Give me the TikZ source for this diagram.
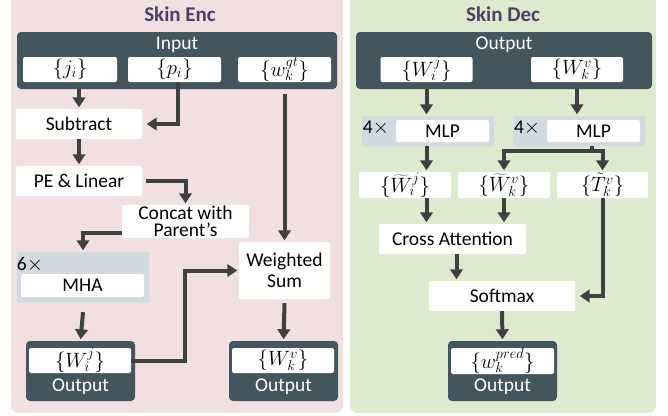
\documentclass[tikz,border=0pt]{standalone}
\usepackage{fontspec}
\setmainfont{Carlito}
\usetikzlibrary{arrows.meta}
\definecolor{pinkbg}{RGB}{240,224,226}
\definecolor{greenbg}{RGB}{222,234,207}
\definecolor{darkbox}{RGB}{68,85,94}
\definecolor{graybox}{RGB}{210,218,223}
\definecolor{titlecol}{RGB}{76,64,100}
\definecolor{arrowcol}{RGB}{64,64,64}
\begin{document}
\begin{tikzpicture}[x=1pt,y=-1pt,
  txt/.style={font=\fontsize{19.5}{16.5}\selectfont},
  wbox/.style={fill=white, rounded corners=2pt, inner sep=0pt, txt, text=black},
  dbox/.style={fill=darkbox, rounded corners=4pt, inner sep=0pt},
  gbox/.style={fill=graybox, rounded corners=2pt, inner sep=0pt},
  dlabel/.style={text=white, txt, inner sep=0pt},
  ttl/.style={font=\fontsize{21}{21}\selectfont\bfseries, text=titlecol},
  arr/.style={draw=arrowcol, line width=4pt, shorten >=1.5pt, -{Triangle[length=10pt,width=12.5pt]}}]
\useasboundingbox (0,0) rectangle (668,415);
% panels
\fill[pinkbg, rounded corners=8pt] (11,-12) rectangle (343,413);
\fill[greenbg, rounded corners=8pt] (350,-12) rectangle (656,413);
\node[ttl] (t1) at (180,14) {Skin Enc};
\node[ttl] (t2) at (503,14) {Skin Dec};

% ---------- Skin Enc ----------
\node[dbox, minimum width=320pt, minimum height=57pt] (input) at (177,60.5) {};
\node[dlabel] (inlab) at (177,45) {Input};
\node[wbox, minimum width=94pt, minimum height=25pt] (ji) at (70,69.5) {$\{j_i\}$};
\node[wbox, minimum width=93pt, minimum height=25pt] (pi) at (174.5,69.5) {$\{p_i\}$};
\node[wbox, minimum width=93pt, minimum height=25pt] (wgt) at (284.5,69.5) {$\{w_k^{gt}\}$};
\node[wbox, minimum width=126pt, minimum height=30pt] (sub) at (79,124) {Subtract};
\node[wbox, minimum width=126pt, minimum height=30pt] (pe) at (79,181) {PE \& Linear};
\node[wbox, minimum width=127pt, minimum height=33pt, align=center] (cat) at (185.5,221.5) {Concat with\\Parent’s};
\node[gbox, minimum width=132pt, minimum height=51pt] (g6) at (83,277.5) {};
\node[txt, inner sep=0pt] (six) at (30,265) {6$\times$};
\node[wbox, minimum width=123pt, minimum height=23pt] (mha) at (82.5,285.5) {MHA};
\node[wbox, minimum width=91pt, minimum height=57pt, align=center] (ws) at (284.5,270.5) {Weighted\\[4pt]Sum};
\node[dbox, minimum width=109pt, minimum height=60pt] (outL) at (80.5,371) {};
\node[wbox, minimum width=102pt, minimum height=25pt] (wij) at (80,360.5) {$\{W_i^j\}$};
\node[dlabel] (outLlab) at (80.5,387) {Output};
\node[dbox, minimum width=109pt, minimum height=60pt] (outR) at (283.5,371) {};
\node[wbox, minimum width=102pt, minimum height=25pt] (wkv) at (283,360.5) {$\{W_k^v\}$};
\node[dlabel] (outRlab) at (283.5,387) {Output};

\draw[arr] (input.south -| sub.north) -- (sub.north);
\draw[arr] ([xshift=3pt]pi.south) |- ([xshift=3pt]sub.east);
\draw[arr] (sub.south) -- (pe.north);
\draw[arr] ([xshift=4pt]pe.east) -| (cat.north);
\draw[arr] ([yshift=-5pt]input.south -| ws.north) -- (ws.north);
\draw[arr] ([yshift=-11pt]cat.west) -| (g6.north);
\draw[arr] ([yshift=-9pt]g6.south) -- (outL.north);
\draw[arr] (wij.east) -- ++(54,0) |- (ws.west);
\draw[arr] ([yshift=-4pt]ws.south) -- (outR.north);

% ---------- Skin Dec ----------
\node[dbox, minimum width=296pt, minimum height=57pt] (out2) at (504,60.5) {};
\node[dlabel] (out2lab) at (504,45) {Output};
\node[wbox, minimum width=92pt, minimum height=25pt] (wij2) at (426.5,69.5) {$\{W_i^j\}$};
\node[wbox, minimum width=92pt, minimum height=25pt] (wkv2) at (577,69.5) {$\{W_k^v\}$};
\node[gbox, minimum width=132pt, minimum height=30pt] (gL) at (428,131) {};
\node[txt, inner sep=0pt] (fourL) at (376,128) {4$\times$};
\node[wbox, minimum width=93pt, minimum height=22pt] (mlpL) at (442.5,131) {MLP};
\node[gbox, minimum width=132pt, minimum height=30pt] (gR) at (579,131) {};
\node[txt, inner sep=0pt] (fourR) at (527,128) {4$\times$};
\node[wbox, minimum width=93pt, minimum height=22pt] (mlpR) at (593.5,131) {MLP};
\node[wbox, minimum width=92pt, minimum height=26pt] (wti) at (405,185) {$\{\widetilde{W}_i^j\}$};
\node[wbox, minimum width=92pt, minimum height=26pt] (wtk) at (504,185) {$\{\widetilde{W}_k^v\}$};
\node[wbox, minimum width=91pt, minimum height=26pt] (ttk) at (602.5,185) {$\{\tilde{T}_k^v\}$};
\node[wbox, minimum width=147pt, minimum height=30pt] (ca) at (452.5,239) {Cross Attention};
\node[wbox, minimum width=146pt, minimum height=30pt] (sm) at (502,296) {Softmax};
\node[dbox, minimum width=109pt, minimum height=60pt] (outB) at (502.5,371) {};
\node[wbox, minimum width=103pt, minimum height=26pt] (wpred) at (502.5,361) {$\{w_k^{pred}\}$};
\node[dlabel] (outBlab) at (502.5,387) {Output};

\draw[arr] (out2.south -| wij2) -- (gL.north -| wij2);
\draw[arr] (out2.south -| wkv2) -- (gR.north -| wkv2);
\draw[arr] (gL.south -| wij2) -- (wti.north -| wij2);
\draw[arr] ([xshift=-2pt]gR.south -| mlpR) -- ++(0,5) -| (wtk.north);
\draw[arr] ([xshift=-2pt]gR.south -| mlpR) -- ++(0,5) -| (ttk.north);
\draw[arr] (wti.south -| wij2) -- (ca.north -| wij2);
\draw[arr] (wtk.south) -- (ca.north -| wtk);
\draw[arr] ([xshift=4pt]ca.south) -- ([xshift=4pt]ca.south |- sm.north);
\draw[arr] (ttk.south) |- ([xshift=3pt]sm.east);
\draw[arr] (sm.south) -- (outB.north);
\end{tikzpicture}
\end{document}
